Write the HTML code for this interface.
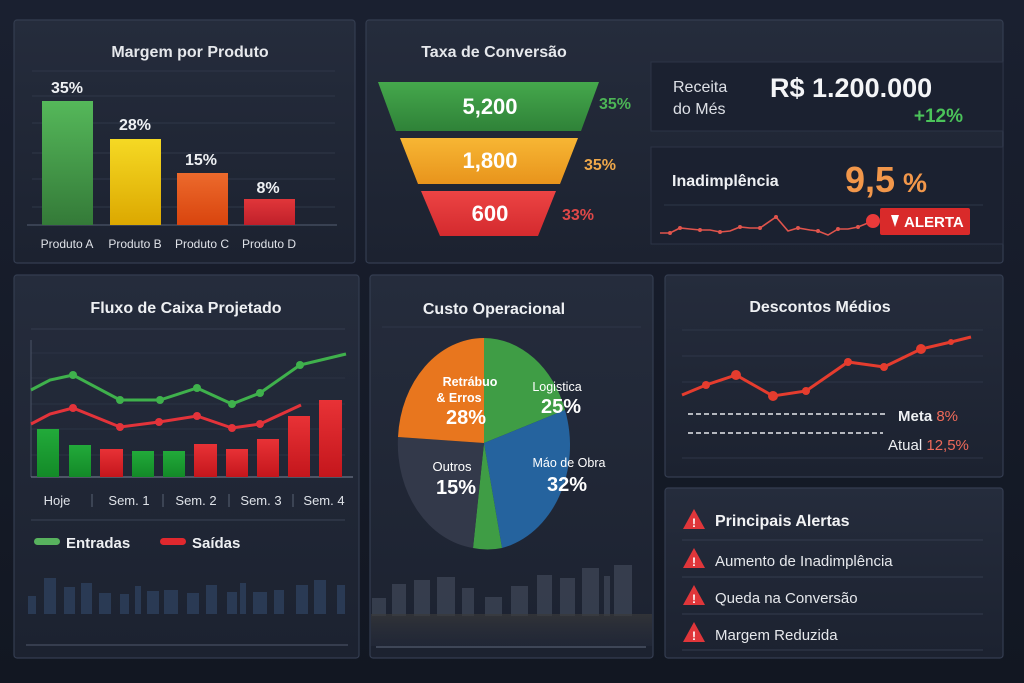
<!DOCTYPE html>
<html><head><meta charset="utf-8"><style>
html,body{margin:0;padding:0;background:#151b27;}
svg{display:block;font-family:"Liberation Sans","DejaVu Sans",sans-serif;}
</style></head><body>
<svg width="1024" height="683" viewBox="0 0 1024 683" xmlns="http://www.w3.org/2000/svg">
<defs>
<linearGradient id="bg" x1="0" y1="0" x2="0" y2="1"><stop offset="0" stop-color="#1a2030"/><stop offset="1" stop-color="#121722"/></linearGradient>
<linearGradient id="pn" x1="0" y1="0" x2="0" y2="1"><stop offset="0" stop-color="#252c3c"/><stop offset="1" stop-color="#1c2230"/></linearGradient>
<linearGradient id="gA" x1="0" y1="0" x2="0" y2="1"><stop offset="0" stop-color="#55b85a"/><stop offset="1" stop-color="#347a38"/></linearGradient>
<linearGradient id="gB" x1="0" y1="0" x2="0" y2="1"><stop offset="0" stop-color="#f5d924"/><stop offset="1" stop-color="#dca800"/></linearGradient>
<linearGradient id="gC" x1="0" y1="0" x2="0" y2="1"><stop offset="0" stop-color="#ec6a2c"/><stop offset="1" stop-color="#d9440e"/></linearGradient>
<linearGradient id="gD" x1="0" y1="0" x2="0" y2="1"><stop offset="0" stop-color="#e0363a"/><stop offset="1" stop-color="#c0202a"/></linearGradient>
<linearGradient id="fG" x1="0" y1="0" x2="0" y2="1"><stop offset="0" stop-color="#45a84c"/><stop offset="1" stop-color="#2f8238"/></linearGradient>
<linearGradient id="fO" x1="0" y1="0" x2="0" y2="1"><stop offset="0" stop-color="#f7b634"/><stop offset="1" stop-color="#e8941c"/></linearGradient>
<linearGradient id="fR" x1="0" y1="0" x2="0" y2="1"><stop offset="0" stop-color="#ec4444"/><stop offset="1" stop-color="#d42a2e"/></linearGradient>
<linearGradient id="bG" x1="0" y1="0" x2="0" y2="1"><stop offset="0" stop-color="#22aa3a"/><stop offset="1" stop-color="#138a28"/></linearGradient>
<linearGradient id="bR" x1="0" y1="0" x2="0" y2="1"><stop offset="0" stop-color="#e83236"/><stop offset="1" stop-color="#c4161c"/></linearGradient>
<linearGradient id="floor" x1="0" y1="0" x2="0" y2="1"><stop offset="0" stop-color="#3a3a3a" stop-opacity=".7"/><stop offset="1" stop-color="#2a3040" stop-opacity=".3"/></linearGradient>
</defs>
<rect width="1024" height="683" fill="url(#bg)"/>

<!-- Panels -->
<g fill="url(#pn)" stroke="#343d50" stroke-width="1.2">
<rect x="14" y="20" width="341" height="243" rx="3"/>
<rect x="366" y="20" width="637" height="243" rx="3"/>
<rect x="14" y="275" width="345" height="383" rx="3"/>
<rect x="370" y="275" width="283" height="383" rx="3"/>
<rect x="665" y="275" width="338" height="202" rx="3"/>
<rect x="665" y="488" width="338" height="170" rx="3"/>
</g>

<!-- Margem por Produto -->
<text x="190" y="57" fill="#e6e8ec" font-size="16" font-weight="bold" text-anchor="middle">Margem por Produto</text>
<g stroke="#2f3748" stroke-width="1"><line x1="32" y1="71" x2="335" y2="71"/><line x1="32" y1="96" x2="335" y2="96"/><line x1="32" y1="123" x2="335" y2="123"/><line x1="32" y1="153" x2="335" y2="153"/><line x1="32" y1="179" x2="335" y2="179"/><line x1="32" y1="207" x2="335" y2="207"/></g>
<line x1="27" y1="225" x2="337" y2="225" stroke="#4a5366" stroke-width="1.2"/>
<rect x="42" y="101" width="51" height="124" fill="url(#gA)"/>
<rect x="110" y="139" width="51" height="86" fill="url(#gB)"/>
<rect x="177" y="173" width="51" height="52" fill="url(#gC)"/>
<rect x="244" y="199" width="51" height="26" fill="url(#gD)"/>
<g fill="#eef0f3" font-size="16" font-weight="bold" text-anchor="middle">
<text x="67" y="93">35%</text><text x="135" y="130">28%</text><text x="201" y="165">15%</text><text x="268" y="193">8%</text></g>
<g fill="#dfe2e8" font-size="12" text-anchor="middle">
<text x="67" y="248">Produto A</text><text x="135" y="248">Produto B</text><text x="202" y="248">Produto C</text><text x="269" y="248">Produto D</text></g>

<!-- Taxa de Conversão -->
<text x="494" y="57" fill="#e6e8ec" font-size="16" font-weight="bold" text-anchor="middle">Taxa de Conversão</text>
<polygon points="378,82 599,82 581,131 396,131" fill="url(#fG)"/>
<polygon points="400,138 578,138 560,184 418,184" fill="url(#fO)"/>
<polygon points="421,191 556,191 538,236 440,236" fill="url(#fR)"/>
<g fill="#fff" font-size="22" font-weight="bold" text-anchor="middle">
<text x="490" y="114">5,200</text><text x="490" y="168">1,800</text><text x="490" y="221">600</text></g>
<text x="599" y="109" fill="#4cb556" font-size="16" font-weight="bold">35%</text>
<text x="584" y="170" fill="#f0a84a" font-size="16" font-weight="bold">35%</text>
<text x="562" y="220" fill="#e04848" font-size="16" font-weight="bold">33%</text>

<!-- Receita -->
<rect x="651" y="62" width="352" height="69" fill="#1b2130" stroke="#2c3446"/>
<text x="673" y="92" fill="#dde0e6" font-size="16">Receita</text>
<text x="673" y="114" fill="#dde0e6" font-size="16">do Més</text>
<text x="770" y="97" fill="#f4f5f7" font-size="27" font-weight="bold">R$ 1.200.000</text>
<text x="963" y="122" fill="#4bc35a" font-size="19" font-weight="bold" text-anchor="end">+12%</text>
<!-- Inadimplencia -->
<rect x="651" y="147" width="352" height="97" fill="#1b2130" stroke="#2c3446"/>
<text x="672" y="186" fill="#eef0f3" font-size="16" font-weight="bold">Inadimplência</text>
<text x="845" y="192" fill="#f2974a" font-size="36" font-weight="bold">9,5</text>
<text x="903" y="192" fill="#f2974a" font-size="27" font-weight="bold">%</text>
<line x1="664" y1="205" x2="983" y2="205" stroke="#2e3648"/>
<polyline points="660,233 670,233 680,228 690,229 700,230 710,230 720,232 730,231 740,227 750,228 760,228 776,217 788,231 798,228 810,230 818,231 828,235 838,229 848,229 858,227 873,221" fill="none" stroke="#e0544c" stroke-width="1.6"/>
<g fill="#e0544c"><circle cx="670" cy="233" r="2"/><circle cx="680" cy="228" r="2"/><circle cx="700" cy="230" r="2"/><circle cx="720" cy="232" r="2"/><circle cx="740" cy="227" r="2"/><circle cx="760" cy="228" r="2"/><circle cx="776" cy="217" r="2"/><circle cx="798" cy="228" r="2"/><circle cx="818" cy="231" r="2"/><circle cx="838" cy="229" r="2"/><circle cx="858" cy="227" r="2"/></g>
<circle cx="873" cy="221" r="7" fill="#e83a3a"/>
<rect x="880" y="208" width="90" height="27" rx="2" fill="#d92a2a"/>
<polygon points="891,215 899,215 895,227" fill="#fff"/>
<text x="904" y="227" fill="#fff" font-size="15" font-weight="bold">ALERTA</text>

<!-- Fluxo de Caixa -->
<text x="186" y="313" fill="#eef0f3" font-size="16" font-weight="bold" text-anchor="middle">Fluxo de Caixa Projetado</text>
<line x1="31" y1="329" x2="345" y2="329" stroke="#343c4e"/>
<g stroke="#2b3344"><line x1="31" y1="353" x2="345" y2="353"/><line x1="31" y1="378" x2="345" y2="378"/><line x1="31" y1="404" x2="345" y2="404"/><line x1="31" y1="429" x2="345" y2="429"/><line x1="31" y1="455" x2="345" y2="455"/></g>
<line x1="31" y1="340" x2="31" y2="477" stroke="#4a5366"/>
<line x1="31" y1="477" x2="353" y2="477" stroke="#6a7284" stroke-width="1.2"/>
<rect x="37" y="429" width="22" height="48" fill="url(#bG)"/>
<rect x="69" y="445" width="22" height="32" fill="url(#bG)"/>
<rect x="100" y="449" width="23" height="28" fill="url(#bR)"/>
<rect x="132" y="451" width="22" height="26" fill="url(#bG)"/>
<rect x="163" y="451" width="22" height="26" fill="url(#bG)"/>
<rect x="194" y="444" width="23" height="33" fill="url(#bR)"/>
<rect x="226" y="449" width="22" height="28" fill="url(#bR)"/>
<rect x="257" y="439" width="22" height="38" fill="url(#bR)"/>
<rect x="288" y="416" width="22" height="61" fill="url(#bR)"/>
<rect x="319" y="400" width="23" height="77" fill="url(#bR)"/>
<polyline points="31,390 50,380 73,375 120,400 160,400 197,388 232,404 260,393 300,365 346,354" fill="none" stroke="#3fb14c" stroke-width="3"/>
<g fill="#3fb14c"><circle cx="73" cy="375" r="4"/><circle cx="120" cy="400" r="4"/><circle cx="160" cy="400" r="4"/><circle cx="197" cy="388" r="4"/><circle cx="232" cy="404" r="4"/><circle cx="260" cy="393" r="4"/><circle cx="300" cy="365" r="4"/></g>
<polyline points="31,424 50,414 73,408 120,427 159,422 197,416 232,428 260,424 301,405" fill="none" stroke="#e3333a" stroke-width="3"/>
<g fill="#e3333a"><circle cx="73" cy="408" r="4"/><circle cx="120" cy="427" r="4"/><circle cx="159" cy="422" r="4"/><circle cx="197" cy="416" r="4"/><circle cx="232" cy="428" r="4"/><circle cx="260" cy="424" r="4"/></g>
<g fill="#dfe2e8" font-size="13" text-anchor="middle">
<text x="57" y="505">Hoje</text><text x="129" y="505">Sem. 1</text><text x="196" y="505">Sem. 2</text><text x="261" y="505">Sem. 3</text><text x="324" y="505">Sem. 4</text></g>
<g stroke="#596174"><line x1="92" y1="494" x2="92" y2="507"/><line x1="163" y1="494" x2="163" y2="507"/><line x1="229" y1="494" x2="229" y2="507"/><line x1="293" y1="494" x2="293" y2="507"/></g>
<line x1="31" y1="520" x2="345" y2="520" stroke="#3a4254"/>
<rect x="34" y="538" width="26" height="7" rx="3.5" fill="#58b25e"/>
<text x="66" y="548" fill="#eef0f3" font-size="15" font-weight="bold">Entradas</text>
<rect x="160" y="538" width="26" height="7" rx="3.5" fill="#e0282e"/>
<text x="192" y="548" fill="#eef0f3" font-size="15" font-weight="bold">Saídas</text>
<g fill="#2c3d58" opacity=".9">
<rect x="28" y="596" width="8" height="18"/><rect x="44" y="578" width="12" height="36"/><rect x="64" y="587" width="11" height="27"/><rect x="81" y="583" width="11" height="31"/><rect x="99" y="593" width="12" height="21"/><rect x="120" y="594" width="9" height="20"/><rect x="135" y="586" width="6" height="28"/><rect x="147" y="591" width="12" height="23"/><rect x="164" y="590" width="14" height="24"/><rect x="187" y="593" width="12" height="21"/><rect x="206" y="585" width="11" height="29"/><rect x="227" y="592" width="10" height="22"/><rect x="240" y="583" width="6" height="31"/><rect x="253" y="592" width="14" height="22"/><rect x="274" y="590" width="10" height="24"/><rect x="296" y="585" width="12" height="29"/><rect x="314" y="580" width="12" height="34"/><rect x="337" y="585" width="8" height="29"/></g>
<line x1="26" y1="645" x2="348" y2="645" stroke="#3e4658" stroke-width="1.5"/>

<!-- Custo Operacional -->
<text x="494" y="314" fill="#eef0f3" font-size="16" font-weight="bold" text-anchor="middle">Custo Operacional</text>
<line x1="382" y1="327" x2="641" y2="327" stroke="#2e3648"/>
<g fill="#3c4454" opacity=".8">
<rect x="372" y="598" width="14" height="18"/><rect x="392" y="584" width="14" height="32"/><rect x="414" y="580" width="16" height="36"/><rect x="437" y="577" width="18" height="39"/><rect x="462" y="588" width="12" height="28"/><rect x="485" y="597" width="17" height="19"/><rect x="511" y="586" width="17" height="30"/><rect x="537" y="575" width="15" height="41"/><rect x="560" y="578" width="15" height="38"/><rect x="582" y="568" width="17" height="48"/><rect x="604" y="576" width="6" height="40"/><rect x="614" y="565" width="18" height="51"/></g>
<rect x="371" y="614" width="281" height="32" fill="url(#floor)"/>
<line x1="376" y1="647" x2="646" y2="647" stroke="#4a5264" stroke-width="1.5"/>
<!-- pie -->
<path d="M484,443 L484,338 A86,105 0 0,1 565,410 Z" fill="#3f9d45"/>
<path d="M484,443 L565,410 A86,105 0 0,1 502,548 Z" fill="#25639e"/>
<path d="M484,443 L502,548 A86,105 0 0,1 473,548 Z" fill="#3f9d45"/>
<path d="M484,443 L473,548 A86,105 0 0,1 398,437 Z" fill="#33394a"/>
<path d="M484,443 L398,437 A86,105 0 0,1 484,338 Z" fill="#e8761e"/>
<g fill="#fff" font-weight="bold" text-anchor="middle">
<text x="470" y="386" font-size="12.5">Retrábuo</text>
<text x="459" y="402" font-size="12.5">&amp; Erros</text>
<text x="466" y="424" font-size="20">28%</text>
<text x="557" y="391" font-size="12.5" font-weight="normal">Logistica</text>
<text x="561" y="413" font-size="20">25%</text>
<text x="569" y="467" font-size="12.5" font-weight="normal">Máo de Obra</text>
<text x="567" y="491" font-size="20">32%</text>
<text x="452" y="471" font-size="13" font-weight="normal">Outros</text>
<text x="456" y="494" font-size="20">15%</text></g>

<!-- Descontos Médios -->
<text x="820" y="312" fill="#eef0f3" font-size="16" font-weight="bold" text-anchor="middle">Descontos Médios</text>
<g stroke="#2e3648"><line x1="682" y1="330" x2="983" y2="330"/><line x1="682" y1="356" x2="983" y2="356"/><line x1="682" y1="382" x2="983" y2="382"/><line x1="682" y1="458" x2="983" y2="458"/></g>
<polyline points="682,395 706,385 736,375 773,396 806,391 848,362 884,367 921,349 951,342 971,337" fill="none" stroke="#e53c2e" stroke-width="3"/>
<g fill="#e53c2e"><circle cx="706" cy="385" r="4"/><circle cx="736" cy="375" r="5"/><circle cx="773" cy="396" r="5"/><circle cx="806" cy="391" r="4"/><circle cx="848" cy="362" r="4"/><circle cx="884" cy="367" r="4"/><circle cx="921" cy="349" r="5"/><circle cx="951" cy="342" r="3"/></g>
<line x1="688" y1="414" x2="886" y2="414" stroke="#e6e8ec" stroke-width="1.4" stroke-dasharray="5,3"/>
<line x1="688" y1="433" x2="883" y2="433" stroke="#e6e8ec" stroke-width="1.4" stroke-dasharray="5,3"/>
<text x="898" y="421" fill="#eef0f3" font-size="15" font-weight="bold">Meta <tspan fill="#ef6a5a" font-weight="normal">8%</tspan></text>
<text x="888" y="450" fill="#eef0f3" font-size="15">Atual <tspan fill="#ef6a5a">12,5%</tspan></text>

<!-- Alertas -->
<g font-size="15" fill="#e6e8ec">
<text x="715" y="526" font-weight="bold" font-size="16" fill="#f2f3f5">Principais Alertas</text>
<text x="715" y="566">Aumento de Inadimplência</text>
<text x="715" y="603">Queda na Conversão</text>
<text x="715" y="640">Margem Reduzida</text></g>
<g stroke="#343c4e"><line x1="682" y1="540" x2="983" y2="540"/><line x1="682" y1="577" x2="983" y2="577"/><line x1="682" y1="614" x2="983" y2="614"/><line x1="682" y1="650" x2="983" y2="650"/></g>
<g fill="#e0363a">
<polygon points="694,509 705,529 683,529"/><polygon points="694,548 705,568 683,568"/><polygon points="694,585 705,605 683,605"/><polygon points="694,622 705,642 683,642"/></g>
<g fill="#fff" font-size="12" font-weight="bold" text-anchor="middle">
<text x="694" y="527">!</text><text x="694" y="566">!</text><text x="694" y="603">!</text><text x="694" y="640">!</text></g>
</svg>
</body></html>
